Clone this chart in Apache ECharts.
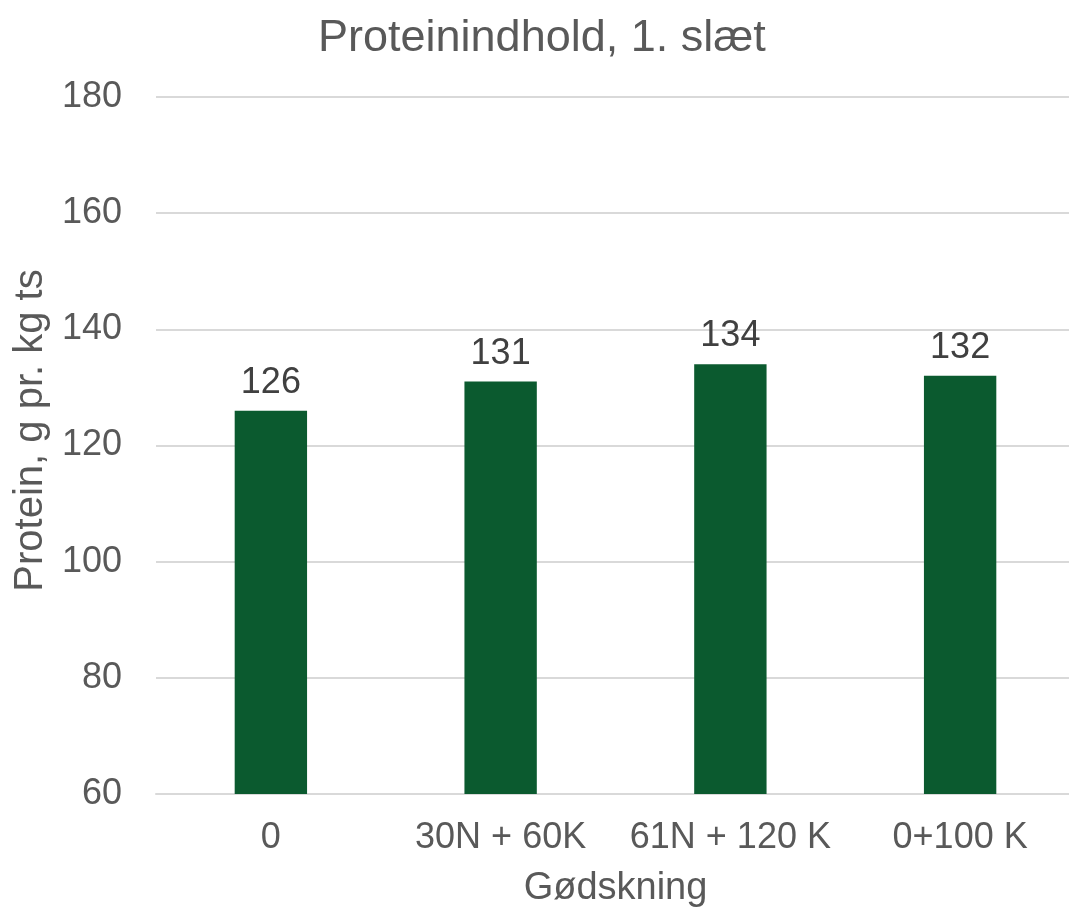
<!DOCTYPE html>
<html>
<head>
<meta charset="utf-8">
<script src="https://cdn.jsdelivr.net/npm/echarts@6/dist/echarts.min.js"></script>
<style>html,body{margin:0;padding:0;background:#fff}#c{width:1069px;height:909px}</style>
</head>
<body>
<div id="c"></div>
<script>
const categories = ['0', '30N + 60K', '61N + 120 K', '0+100 K'];
const protein = [126, 131, 134, 132];
const titleText = 'Proteinindhold, 1. slæt';
const xName = 'Gødskning';
const yName = 'Protein, g pr. kg ts';

const chart = echarts.init(document.getElementById('c'));
const font = '"Liberation Sans", Arial, sans-serif';
chart.setOption({
  animation: false,
  textStyle: { fontFamily: font },
  title: {
    text: titleText, left: 313, top: 11,
    textStyle: { fontFamily: font, fontSize: 45, fontWeight: 'normal', color: '#595959' }
  },
  grid: { left: 156, right: -6, top: 97, bottom: 115, containLabel: false, outerBoundsMode: 'none' },
  xAxis: {
    type: 'category', data: categories,
    name: xName, nameLocation: 'middle', nameGap: 76,
    nameTextStyle: { fontSize: 38, color: '#595959', fontFamily: font },
    axisLine: { lineStyle: { color: '#d9d9d9', width: 2 } },
    axisTick: { show: false },
    axisLabel: { fontSize: 36, color: '#595959', margin: 26, interval: 0, fontFamily: font }
  },
  yAxis: {
    type: 'value', min: 60, max: 180, interval: 20,
    name: yName, nameLocation: 'middle', nameGap: 91,
    nameTextStyle: { fontSize: 40, color: '#595959', fontFamily: font, padding: [0, 0, 0, 30] },
    axisLine: { show: false }, axisTick: { show: false },
    axisLabel: { fontSize: 36, color: '#595959', margin: 34, fontFamily: font },
    splitLine: { lineStyle: { color: '#d9d9d9', width: 2 } }
  },
  series: [{
    type: 'bar', data: protein, barWidth: '31.5%',
    itemStyle: { color: '#0b5a2f' },
    label: { show: true, position: 'top', distance: 10, fontSize: 36, color: '#404040', fontFamily: font }
  }]
});
</script>
</body>
</html>
